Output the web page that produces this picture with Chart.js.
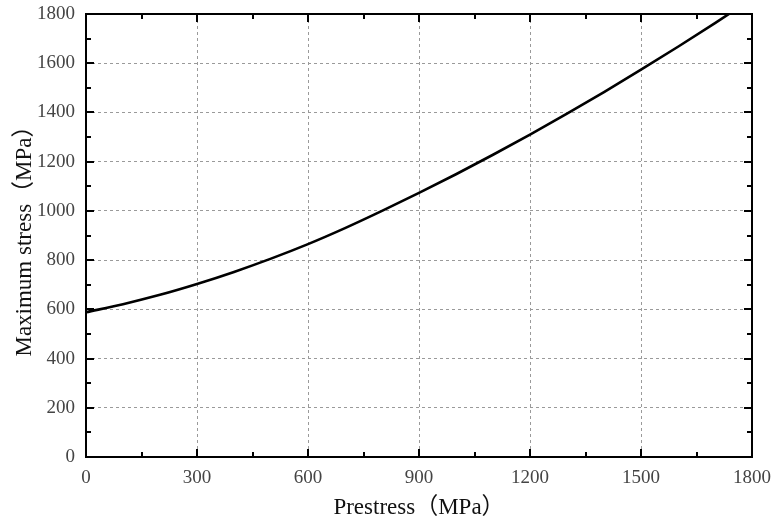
<!DOCTYPE html>
<html>
<head>
<meta charset="utf-8">
<script src="https://cdn.jsdelivr.net/npm/chart.js@4.4.0/dist/chart.umd.min.js"></script>
<style>
html,body{margin:0;padding:0;background:#fff;}
#wrap{width:773px;height:522px;}
</style>
</head>
<body>
<div id="wrap"><canvas id="c" width="773" height="522"></canvas></div>
<script>
const prestress = [0, 100, 200, 300, 400, 500, 600, 700, 800, 900, 1000, 1100, 1200, 1300, 1400, 1500, 1600, 1700, 1800];
const maxStress = [588, 621, 659, 703, 752, 806, 865, 930, 1000, 1073, 1149, 1228, 1310, 1395, 1483, 1574, 1667, 1763, 1862];
const xTicks = [0, 300, 600, 900, 1200, 1500, 1800];
const yTicks = [0, 200, 400, 600, 800, 1000, 1200, 1400, 1600, 1800];
const xMinorTicks = [150, 450, 750, 1050, 1350, 1650];
const yMinorTicks = [100, 300, 500, 700, 900, 1100, 1300, 1500, 1700];
const xTitle = 'Prestress（MPa）';
const yTitle = 'Maximum stress（MPa）';

const frameTicks = {
  id: 'frameTicks',
  afterDatasetsDraw(chart) {
    const {ctx, chartArea: a, scales: {x, y}} = chart;
    ctx.save();
    ctx.strokeStyle = '#000';
    ctx.lineWidth = 2;
    ctx.beginPath();
    const major = 8, minor = 5;
    const vt = (vals, len) => vals.forEach(v => {
      const px = Math.round(x.getPixelForValue(v));
      ctx.moveTo(px, a.bottom); ctx.lineTo(px, a.bottom - len);
      ctx.moveTo(px, a.top); ctx.lineTo(px, a.top + len);
    });
    const ht = (vals, len) => vals.forEach(v => {
      const py = Math.round(y.getPixelForValue(v));
      ctx.moveTo(a.left, py); ctx.lineTo(a.left + len, py);
      ctx.moveTo(a.right, py); ctx.lineTo(a.right - len, py);
    });
    vt(xTicks, major); vt(xMinorTicks, minor);
    ht(yTicks, major); ht(yMinorTicks, minor);
    ctx.stroke();
    ctx.strokeRect(a.left, a.top, a.right - a.left, a.bottom - a.top);
    ctx.restore();
  }
};

const serif = "'Liberation Serif', 'Noto Sans CJK SC', serif";

new Chart(document.getElementById('c'), {
  type: 'line',
  data: {
    labels: prestress,
    datasets: [{
      data: prestress.map((p, i) => ({x: p, y: maxStress[i]})),
      borderColor: '#000',
      borderWidth: 2.6,
      pointRadius: 0,
      tension: 0.4,
      cubicInterpolationMode: 'monotone',
      fill: false
    }]
  },
  options: {
    responsive: false,
    animation: false,
    devicePixelRatio: 1,
    layout: {padding: {top: 14, right: 21, left: 0, bottom: 0}},
    plugins: {legend: {display: false}, tooltip: {enabled: false}},
    scales: {
      x: {
        type: 'linear', min: 0, max: 1800,
        afterBuildTicks: s => { s.ticks = xTicks.map(v => ({value: v})); },
        afterFit: s => { s.height = 65; s.paddingLeft = 0; s.paddingRight = 0; },
        grid: {drawTicks: false, color: '#9a9a9a', lineWidth: 1},
        border: {display: false, dash: [3, 3]},
        ticks: {padding: 10, color: '#444', font: {family: serif, size: 19}, maxRotation: 0, callback: v => String(v)},
        title: {display: true, text: xTitle, color: '#111', padding: {top: 0, bottom: 0}, font: {family: serif, size: 23}}
      },
      y: {
        min: 0, max: 1800,
        afterBuildTicks: s => { s.ticks = yTicks.map(v => ({value: v})); },
        afterFit: s => { s.width = 86; s.paddingTop = 0; s.paddingBottom = 0; },
        grid: {drawTicks: false, color: '#9a9a9a', lineWidth: 1},
        border: {display: false, dash: [3, 3]},
        ticks: {padding: 11, color: '#444', font: {family: serif, size: 19}, callback: v => String(v)},
        title: {display: true, text: yTitle, color: '#111', padding: {top: 11, bottom: 0}, font: {family: serif, size: 23}}
      }
    }
  },
  plugins: [frameTicks]
});
</script>
</body>
</html>
